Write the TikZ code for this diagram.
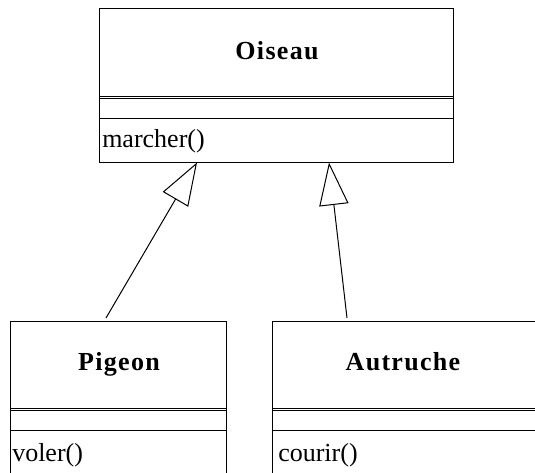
\documentclass[tikz,border=0pt]{standalone}
\usepackage{fontspec}
\setmainfont{Liberation Serif}
\usetikzlibrary{arrows.meta}

\tikzset{
  classname/.style={anchor=base, inner sep=0.75pt, font=\fontsize{19.5}{23}\selectfont\bfseries\addfontfeature{LetterSpace=5}},
  classop/.style={anchor=base west, inner sep=0.75pt, font=\fontsize{19.5}{23}\selectfont},
  inherit/.style={-{Triangle[open, length=32pt, width=22pt]}, line width=0.75pt},
}

\begin{document}
\begin{tikzpicture}[x=0.75pt,y=0.75pt,yscale=-1,xscale=1]
\useasboundingbox (0,0) rectangle (535,472);

%Class Oiseau
\draw [line width=0.75] (99,8) rectangle (453,162);
\draw [line width=0.75] (99,96) -- (453,96);
\draw [line width=0.75] (99,98.5) -- (453,98.5);
\draw [line width=0.75] (99,118) -- (453,118);

%Class Pigeon
\draw [line width=0.75] (10,480) -- (10,321) -- (226,321) -- (226,480);
\draw [line width=0.75] (10,408) -- (226,408);
\draw [line width=0.75] (10,410.5) -- (226,410.5);
\draw [line width=0.75] (10,430) -- (226,430);

%Class Autruche
\draw [line width=0.75] (272,480) -- (272,321) -- (540,321);
\draw [line width=0.75] (272,408) -- (540,408);
\draw [line width=0.75] (272,410.5) -- (540,410.5);
\draw [line width=0.75] (272,430) -- (540,430);

% Text Node
\draw (277,59) node [classname] (oiseau) {Oiseau};
% Text Node
\draw (101,147) node [classop] (marcher) {marcher()};
% Text Node
\draw (119,370) node [classname] (pigeon) {Pigeon};
% Text Node
\draw (403,370) node [classname] (autruche) {Autruche};
% Text Node
\draw (11,461) node [classop] (voler) {voler()};
% Text Node
\draw (277,461) node [classop] (courir) {courir()};

%Generalisations
\coordinate (pigeonTop) at (106,318);
\coordinate (autrucheTop) at (347,318);
\coordinate (oiseauLeft) at (197,162.5);
\coordinate (oiseauRight) at (329,162.5);
\draw [inherit] (pigeonTop) -- (oiseauLeft);
\draw [inherit] (autrucheTop) -- (oiseauRight);

\end{tikzpicture}
\end{document}
